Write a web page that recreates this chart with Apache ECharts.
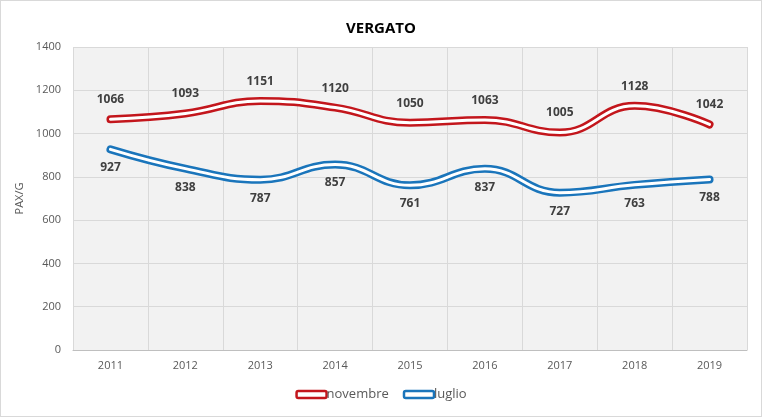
<!DOCTYPE html>
<html>
<head>
<meta charset="utf-8">
<script src="https://cdn.jsdelivr.net/npm/echarts@6/dist/echarts.min.js"></script>
<style>
html,body{margin:0;padding:0;background:#fff;}
#c{width:762px;height:417px;box-sizing:border-box;border:1px solid #d9d9d9;}
</style>
</head>
<body>
<div id="c"></div>
<script>
const categories = ['2011','2012','2013','2014','2015','2016','2017','2018','2019'];
const novembre = [1066,1093,1151,1120,1050,1063,1005,1128,1042];
const luglio = [927,838,787,857,761,837,727,763,788];
const yTicks = {min:0, max:1400, interval:200};

const RED = '#c3161c', BLUE = '#1a75bb';
const font = '"Open Sans", "Noto Sans", sans-serif';
const chart = echarts.init(document.getElementById('c'));
function outer(name, data, color, pos){
  return {
    name, type:'line', data, smooth:0.45, showSymbol:true, symbol:'circle', symbolSize:1,
    lineStyle:{color, width:8, cap:'round', join:'round'},
    itemStyle:{color:'rgba(0,0,0,0)'},
    label:{show:true, position:pos, distance:pos==='top'?13:12, color:'#404040', fontWeight:'bold', fontSize:12, fontFamily:font},
    z:2
  };
}
function inner(name, data){
  return {
    name, type:'line', data, smooth:0.45, showSymbol:false, symbol:'none', silent:true,
    lineStyle:{color:'#ffffff', width:3, cap:'round', join:'round'},
    z:3
  };
}
chart.setOption({
  animation:false,
  backgroundColor:'#ffffff',
  title:{text:'VERGATO', left:'center', top:15, textStyle:{fontFamily:font, fontSize:15, fontWeight:'bold', color:'#000'}},
  grid:{left:72, right:14, top:46, bottom:66, show:true, backgroundColor:'#f2f2f2', borderWidth:0},
  legend:{
    data:[
      {name:'novembre', itemStyle:{color:'#fff', borderColor:RED, borderWidth:2.5}},
      {name:'luglio', itemStyle:{color:'#fff', borderColor:BLUE, borderWidth:2.5}}
    ],
    icon:'roundRect', itemWidth:30, itemHeight:7, itemGap:14,
    bottom:10, left:'center',
    textStyle:{fontFamily:font, fontSize:13, color:'#595959', padding:[0,0,0,-5]}
  },
  xAxis:{
    type:'category', data:categories, boundaryGap:true,
    axisLine:{show:true, lineStyle:{color:'#bfbfbf'}},
    axisTick:{show:false},
    axisLabel:{color:'#595959', fontSize:11, fontFamily:font, margin:10},
    splitLine:{show:true, lineStyle:{color:'#d9d9d9'}}
  },
  yAxis:{
    type:'value', min:yTicks.min, max:yTicks.max, interval:yTicks.interval,
    name:'PAX/G', nameLocation:'middle', nameGap:42, nameRotate:90,
    nameTextStyle:{color:'#595959', fontSize:11, fontFamily:font},
    axisLine:{show:false}, axisTick:{show:false},
    axisLabel:{color:'#595959', fontSize:11, fontFamily:font, margin:12, formatter:v=>String(v)},
    splitLine:{show:true, lineStyle:{color:'#d9d9d9'}}
  },
  series:[
    outer('novembre', novembre, RED, 'top'),
    inner('novembre_w', novembre),
    outer('luglio', luglio, BLUE, 'bottom'),
    inner('luglio_w', luglio)
  ]
});
</script>
</body>
</html>
